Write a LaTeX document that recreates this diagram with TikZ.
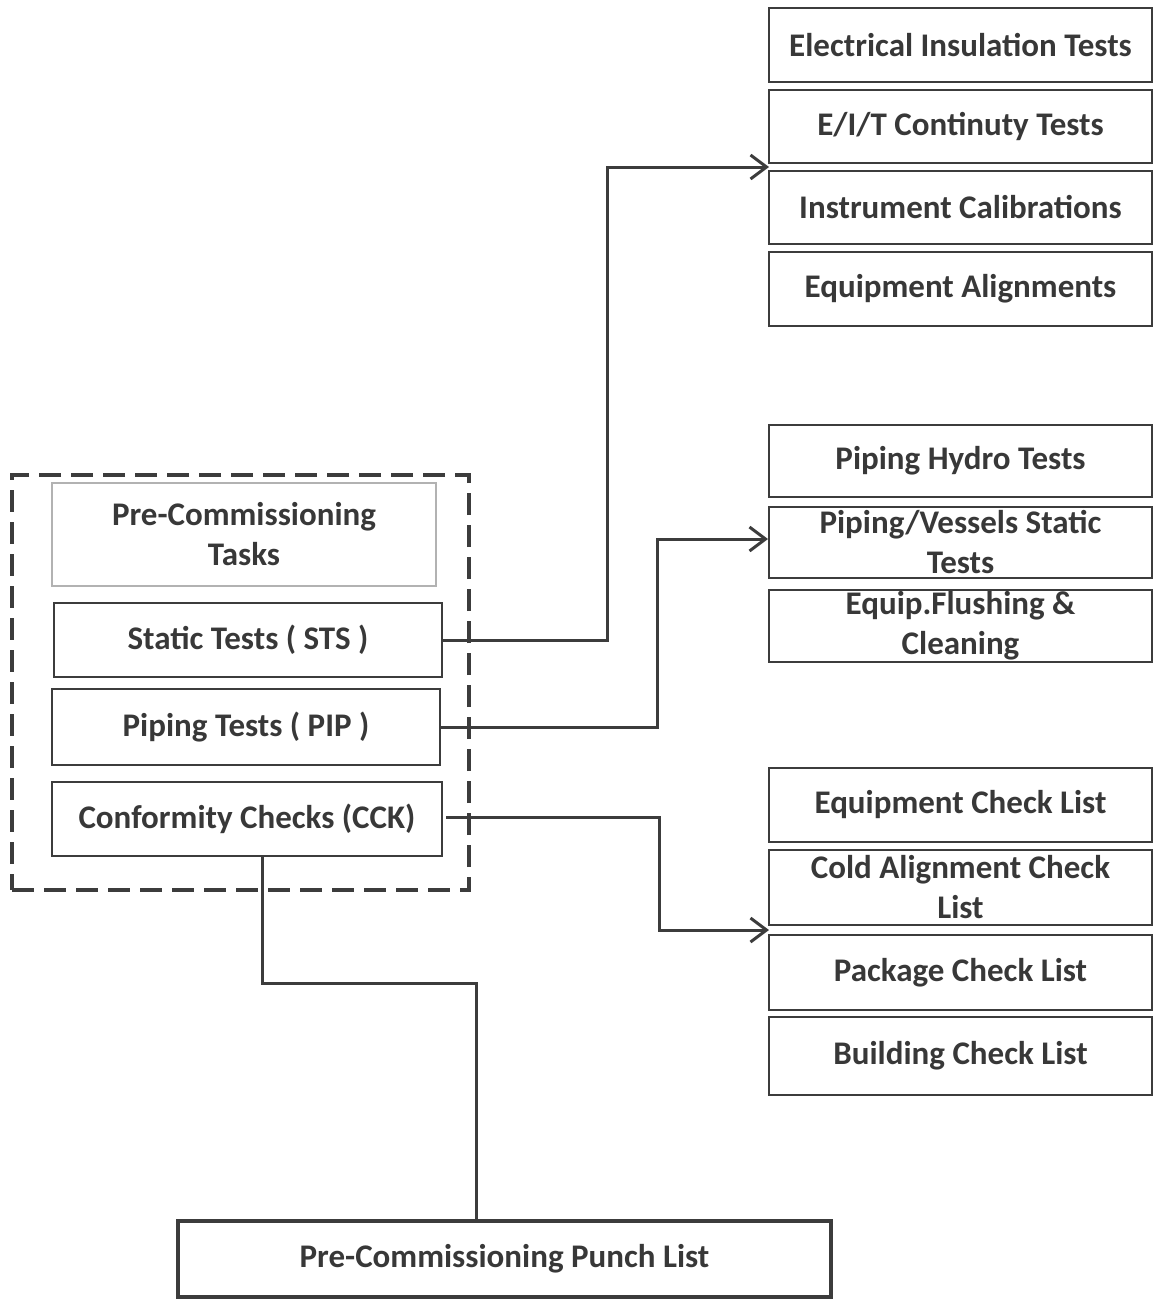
\documentclass[tikz,border=0pt]{standalone}
\usepackage{fontspec}
\setmainfont{Carlito}
\usetikzlibrary{arrows.meta,calc}
\definecolor{lc}{HTML}{3C3C3C}
\definecolor{tc}{HTML}{383838}
\begin{document}
\begin{tikzpicture}[x=1pt,y=-1pt,
  box/.style={draw=lc, line width=2.5pt, rectangle, inner sep=0pt, align=center,
    text=tc, font=\fontsize{33}{40}\selectfont\bfseries},
  rbox/.style={box, minimum width=383pt},
  conn/.style={draw=lc, line width=3pt},
  arr/.style={conn, -{Straight Barb[length=16pt,width=24pt,line width=3pt]}},
]
\useasboundingbox (0,0) rectangle (1154,1299);

% right column: static tests
\node[rbox, minimum height=74pt] (eins)  at (960.5,45)    {Electrical Insulation Tests};
\node[rbox, minimum height=73pt] (eit)   at (960.5,126.5) {E/I/T Continuty Tests};
\node[rbox, minimum height=73pt] (inst)  at (960.5,207.5) {Instrument Calibrations};
\node[rbox, minimum height=74pt] (ealg)  at (960.5,289)   {Equipment Alignments};

% right column: piping tests
\node[rbox, minimum height=72pt] (hydro) at (960.5,461)   {Piping Hydro Tests};
\node[rbox, minimum height=71pt] (pvs)   at (960.5,542.5) {Piping/Vessels Static\\Tests};
\node[rbox, minimum height=72pt] (flush) at (960.5,626)   {Equip.Flushing \&\\Cleaning};

% right column: conformity checks
\node[rbox, minimum height=74pt] (eqcl)  at (960.5,805)   {Equipment Check List};
\node[rbox, minimum height=75pt] (cold)  at (960.5,887.5) {Cold Alignment Check\\List};
\node[rbox, minimum height=75pt] (pkg)   at (960.5,972.5) {Package Check List};
\node[rbox, minimum height=78pt] (bldg)  at (960.5,1056)  {Building Check List};

% task group
\node[draw=lc, line width=4pt, dash pattern=on 22pt off 10pt, rectangle,
      minimum width=457pt, minimum height=415pt] (grp) at (240.5,682.5) {};
\node[box, draw=black!30, line width=1.2pt, minimum width=384pt, minimum height=103pt]
      (title) at (244,534.5) {Pre-Commissioning\\Tasks};
\node[box, minimum width=388pt, minimum height=74pt] (sts) at (248,640) {Static Tests ( STS )};
\node[box, minimum width=388pt, minimum height=76pt] (pip) at (246,727) {Piping Tests ( PIP )};
\node[box, minimum width=390pt, minimum height=74pt] (cck) at (247,819) {Conformity Checks (CCK)};

% punch list
\node[box, line width=4pt, minimum width=653pt, minimum height=76pt] (punch) at (504.5,1259)
      {Pre-Commissioning Punch List};

% arrow targets
\coordinate (tipA) at (769,167);
\coordinate (tipB) at (768,539);
\coordinate (tipC) at (769,930);

% connectors
\draw[arr] (sts.east) -- ++(164,0) |- (tipA);
\draw[arr] (pip.east) -- ++(216,0) |- (tipB);
\draw[arr] ($(cck.east)+(3,-2)$) -- ++(213,0) |- (tipC);
\draw[conn] ($(cck.south)+(15,0)$) -- ++(0,126) -| ($(punch.north)+(-28,0)$);
\end{tikzpicture}
\end{document}
